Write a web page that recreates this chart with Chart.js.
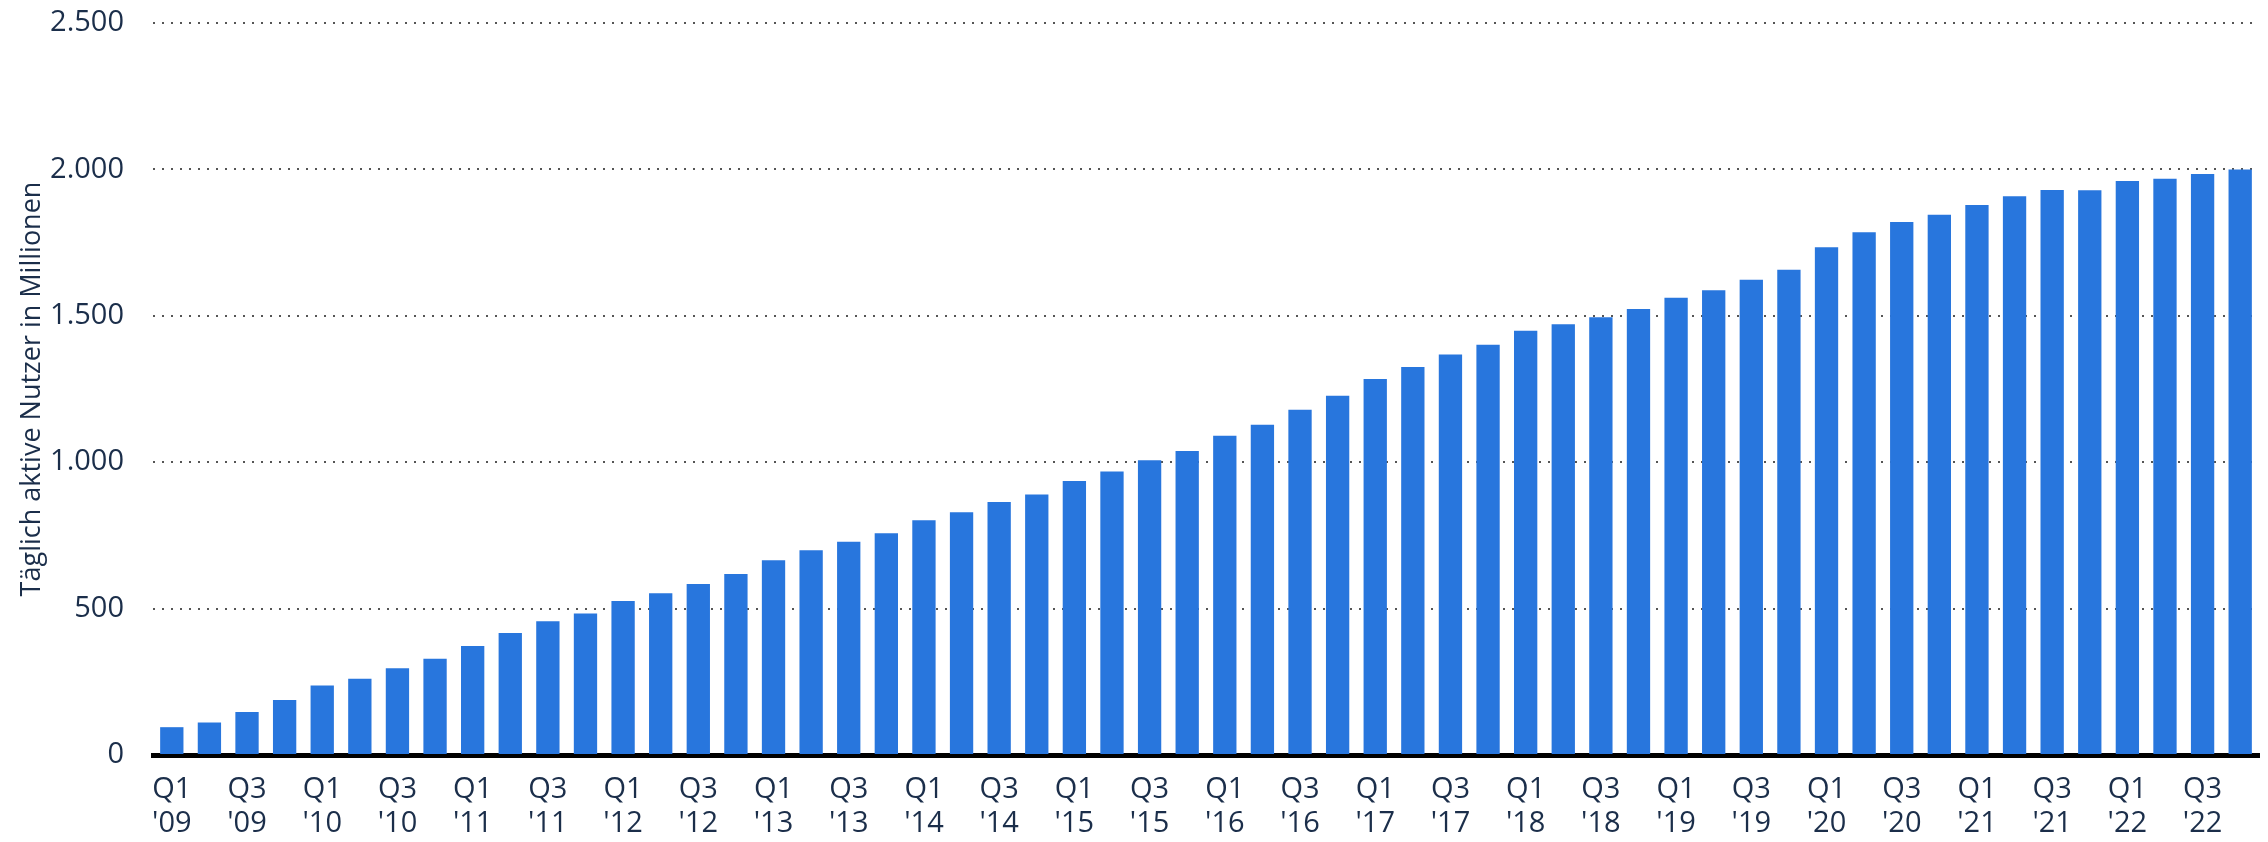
<!DOCTYPE html>
<html>
<head>
<meta charset="utf-8">
<script src="https://cdn.jsdelivr.net/npm/chart.js@4"></script>
<style>
  html, body { margin: 0; padding: 0; background: #fff; }
  #wrap { width: 2268px; height: 842px; }
</style>
</head>
<body>
<div id="wrap"><canvas id="chartNutzer" width="2268" height="842"></canvas></div>
<script>
// Täglich aktive Nutzer (Mio.) pro Quartal, Q1 2009 bis Q4 2022
const quartale = ['Q1', 'Q2', 'Q3', 'Q4'];
const jahre = ["'09", "'10", "'11", "'12", "'13", "'14", "'15", "'16", "'17", "'18", "'19", "'20", "'21", "'22"];
const nutzer = [
    95, 111, 147, 188,
    237, 260, 296, 329,
    372, 417, 457, 483,
    526, 552, 584, 618,
    665, 699, 728, 757,
    802, 829, 864, 890,
    936, 968, 1007, 1038,
    1090, 1128, 1179, 1227,
    1284, 1325, 1368, 1401,
    1449, 1471, 1495, 1523,
    1562, 1587, 1623, 1657,
    1734, 1785, 1820, 1845,
    1878, 1908, 1930, 1929,
    1960, 1968, 1984, 2000
];
const yTicks = [0, 500, 1000, 1500, 2000, 2500];

const labels = [];
jahre.forEach(j => quartale.forEach(q => labels.push([q, j])));

const textColor = '#1b2e4a';
const fontFamily = '"Open Sans", "Noto Sans", sans-serif';

const ctx = document.getElementById('chartNutzer').getContext('2d');
const chartNutzer = new Chart(ctx, {
    type: 'bar',
    data: {
        labels: labels,
        datasets: [{
            label: 'Täglich aktive Nutzer',
            data: nutzer,
            backgroundColor: '#2876dd',
            borderWidth: 0,
            categoryPercentage: 1,
            barPercentage: 0.62
        }]
    },
    options: {
        responsive: false,
        animation: false,
        layout: { padding: { top: 0, right: 9, left: 0, bottom: 0 } },
        plugins: { legend: { display: false }, tooltip: { enabled: false } },
        scales: {
            x: {
                afterFit: s => { s.height = 87; },
                grid: { display: false, drawTicks: false },
                border: { display: true, color: '#000', width: 5 },
                ticks: {
                    autoSkip: false,
                    maxRotation: 0,
                    padding: 18,
                    color: textColor,
                    font: { family: fontFamily, size: 29, lineHeight: '34px' },
                    callback: function (v, i) { return i % 2 === 0 ? labels[i] : ''; }
                }
            },
            y: {
                min: 0,
                max: 2500,
                afterFit: s => { s.width = 153; s.paddingTop = 23; s.paddingBottom = 0; },
                afterBuildTicks: s => { s.ticks = yTicks.map(v => ({ value: v })); },
                grid: {
                    drawTicks: false,
                    color: c => c.tick.value === 0 ? 'rgba(0,0,0,0)' : '#555',
                    lineWidth: 2
                },
                border: { display: false, dash: [2, 7] },
                ticks: {
                    padding: 29,
                    color: textColor,
                    font: { family: fontFamily, size: 29 },
                    callback: v => v.toLocaleString('de-DE')
                },
                title: {
                    display: true,
                    text: 'Täglich aktive Nutzer in Millionen',
                    color: textColor,
                    font: { family: fontFamily, size: 27 },
                    padding: { top: 16, bottom: 0 }
                }
            }
        }
    }
});
</script>
</body>
</html>
